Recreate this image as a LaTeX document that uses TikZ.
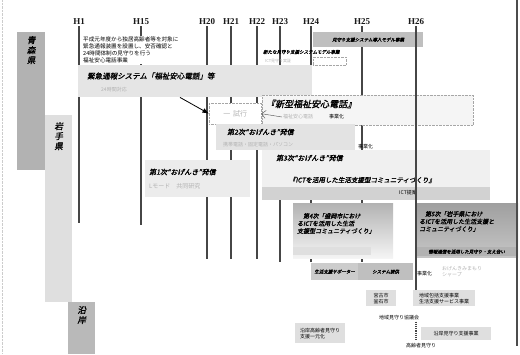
\documentclass[tikz,border=0pt]{standalone}
\usepackage{fontspec}
\setmainfont{Liberation Serif}
\newfontfamily\jp{Noto Sans CJK JP}
\newfontfamily\jpt[FakeSlant=0.2,FakeBold=1.5]{Noto Sans CJK JP}
\usetikzlibrary{positioning, calc, arrows.meta}

\begin{document}
\begin{tikzpicture}[x=1pt, y=-1pt,
every node/.style={font=\jp\fontsize{5}{6}\selectfont, inner sep=1pt},
yearlbl/.style={font=\rmfamily\bfseries\fontsize{9}{10}\selectfont, text=gray!20!black},
yearline/.style={draw=gray!55!black, line width=1.2pt},
box/.style={anchor=north west, inner sep=0pt},
preftext/.style={font=\jpt\fontsize{8.5}{10}\selectfont, align=center},
dotbox/.style={box, draw=gray!70, densely dotted, fill=gray!8},
title/.style={font=\jpt\fontsize{7}{8}\selectfont, anchor=west},
note/.style={font=\jp\fontsize{5}{6}\selectfont, text=gray!60, anchor=west},
arrow/.style={-Latex, thick}]

    \useasboundingbox (0,0) rectangle (520,354);

    % year labels and year lines
    \foreach \yr/\xx in {1/79, 15/141, 20/207, 21/231, 22/257, 23/280, 24/311, 25/362, 26/416}
        \node[yearlbl] (h\yr) at (\xx,22) {H\yr};
    \foreach \yr/\yy in {1/223, 15/225, 20/259, 21/259, 22/259, 23/262, 24/262, 25/262}
        \draw[yearline] (h\yr.south) -- (h\yr.south |- 0,\yy);

    % prefectures
    \node[box, fill=gray!60, minimum width=28, minimum height=138] (aomoribox) at (17,32) {};
    \node[preftext, below=3pt of aomoribox.north] (aomori) {青\\森\\県};
    \node[box, fill=gray!25, minimum width=27, minimum height=187] (iwatebox) at (45,115) {};
    \node[preftext, below=6pt of iwatebox.north] (iwate) {岩\\手\\県};
    \node[box, fill=gray!55, minimum width=27, minimum height=52] (enganbox) at (68,302) {};
    \node[preftext, below=3pt of enganbox.north] (engan) {沿\\岸};

    % emergency call system
    \node[box, fill=white, inner sep=1pt, align=left, font=\jp\fontsize{5.6}{6.7}\selectfont] (topnote) at (82,36)
        {平成元年度から独居高齢者等を対象に\\緊急通報装置を設置し、安否確認と\\24時間体制の見守りを行う\\福祉安心電話事業};
    \node[box, fill=gray!20, minimum width=234, minimum height=32] (kinkyu) at (78,65) {};
    \node[title, font=\jpt\fontsize{7.5}{9}\selectfont] (kinkyutitle) at (86,76) {緊急通報システム「福祉安心電話」等};
    \node[note] (kinkyunote) at (100,90) {24時間対応};

    % top right
    \node[box, fill=gray!50, minimum width=110, minimum height=15] (mimamori) at (313,32) {};
    \node[font=\jpt\fontsize{4.5}{5}\selectfont] at (mimamori) {見守り支援システム導入モデル事業};
    \node[title, font=\jpt\fontsize{4.5}{5}\selectfont] (model) at (262,52) {新たな見守り支援システムモデル事業};
    \node[dotbox, fill=none, minimum width=33, minimum height=8] (modelbox) at (313,57) {};
    \node[note, font=\jp\fontsize{4}{5}\selectfont] at (264,61) {ICT見守り実証};

    % new phone
    \node[dotbox, minimum width=211, minimum height=30] (shingata) at (262,95) {};
    \node[title, font=\jpt\fontsize{9}{10}\selectfont] (shingatatitle) at (265,104) {『新型福祉安心電話』};
    \node[note] (shingatanote) at (282,117) {福祉安心電話};
    \node[anchor=west] at (328,117) {事業化};
    \node[dotbox, fill=white, minimum width=52, minimum height=21] (trial) at (209,103) {};
    \node[font=\jp\fontsize{7}{8}\selectfont, text=gray!60] at (trial) {一\, 試行};
    \draw[arrow] (180,0 |- kinkyu.south) -- (trial.west);
    \draw[-{Straight Barb[length=4pt]}, gray!60!black] (shingatanote.west) -- (trial.east);

    % ogenki 2
    \node[box, fill=gray!22, minimum width=139, minimum height=26] (niji) at (216,124) {};
    \node[title] (nijititle) at (226,132) {第2次“おげんき”発信};
    \node[note] at (222,145) {携帯電話・固定電話・パソコン};
    \node[anchor=west] (nijiend) at (357,147) {事業化};

    % ogenki 1
    \node[box, fill=gray!15, minimum width=105, minimum height=37] (ichiji) at (145,160) {};
    \node[title] (ichijititle) at (148,172) {第1次“おげんき”発信};
    \node[note, font=\jp\fontsize{6}{7}\selectfont] at (148,186) {Lモード\quad 共同研究};

    % ogenki 3
    \node[box, fill=gray!12, minimum width=228, minimum height=50] (sanji) at (262,150) {};
    \node[title] (sanjititle) at (275,158) {第3次“おげんき”発信};
    \node[title, font=\jpt\fontsize{6.5}{8}\selectfont] (ict) at (288,180) {『ICTを活用した生活支援型コミュニティづくり』};
    \node[box, fill=gray!35, minimum width=228, minimum height=13] (sanjiband) at (262,187) {};
    \node[anchor=west] at (398,193) {ICT提案};

    % ogenki 4 and 5
    \node[box, top color=gray!60, bottom color=gray!8, minimum width=100, minimum height=55] (yoji) at (293,203) {};
    \node[font=\jpt\fontsize{6}{7.5}\selectfont, align=left, anchor=north west] (yojitext) at (296,212)
        {\quad 第4次「盛岡市におけ\\るICTを活用した生活\\支援型コミュニティづくり」};
    \node[box, fill=gray!25, minimum width=78, minimum height=8] (yojiband) at (293,247) {};
    \node[box, top color=gray!75, bottom color=gray!45, minimum width=103, minimum height=54] (goji) at (415,203) {};
    \node[font=\jpt\fontsize{6}{7.5}\selectfont, align=left, anchor=north west] (gojitext) at (418,210)
        {\quad 第5次「岩手県におけ\\るICTを活用した生活支援と\\コミュニティづくり」};
    \node[box, fill=gray!60, minimum width=103, minimum height=9] (gojiband) at (415,247) {};
    \node[font=\jpt\fontsize{4.5}{5}\selectfont] at (gojiband) {情報通信を活用した見守り・支え合い};

    % bars
    \node[box, fill=gray!40, minimum width=47, minimum height=17] (bar1) at (311,263) {};
    \node[box, fill=gray!50, minimum width=55, minimum height=17] (bar2) at (358,263) {};
    \node[font=\jpt\fontsize{4.5}{5}\selectfont] at (bar1) {生活支援サポーター};
    \node[font=\jpt\fontsize{4.5}{5}\selectfont] at (bar2) {システム提供};
    \node[anchor=west] (jigyoka) at (416,274) {事業化};
    \node[anchor=west, align=left, text=gray!60] (sharp) at (441,272) {おげんきみまもり\\シャープ};

    % coast
    \node[box, fill=gray!25, minimum width=30, minimum height=16] (kamaishi) at (366,290) {};
    \node[align=left] at (kamaishi) {宮古市\\釜石市};
    \node[box, fill=gray!25, minimum width=62, minimum height=16] (houkatsu) at (413,290) {};
    \node[align=left] at (houkatsu) {地域包括支援事業\\生活支援サービス事業};
    \node[anchor=west] (kyougikai) at (378,318) {地域見守り協議会};
    \node[box, fill=gray!25, minimum width=50, minimum height=20] (engan1) at (295,323) {};
    \node[align=left] at (engan1) {沿岸高齢者見守り\\支援一元化};
    \node[box, fill=gray!25, minimum width=70, minimum height=13] (engan2) at (421,327) {};
    \node at (engan2) {沿岸見守り支援事業};
    \node[anchor=west] (koureisha) at (405,346) {高齢者見守り};

    \draw[yearline] (h26.south) -- (h26.south |- houkatsu.north);
    \draw[yearline, densely dotted] (h26.south |- kyougikai.south) -- (h26.south |- engan2.south);

    % frame
    \draw[line width=2.5pt, gray!60!black] (517,0) -- (517,346);
    \draw[densely dotted, gray!40] (2,0) -- (2,354);
\end{tikzpicture}
\end{document}
